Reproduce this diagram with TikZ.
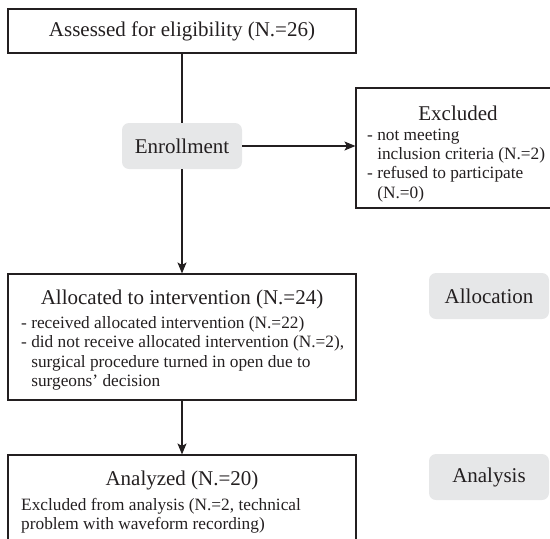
\documentclass[tikz,border=0pt]{standalone}
\usepackage{fontspec}
\setmainfont{Liberation Serif}
\usetikzlibrary{arrows.meta}
\definecolor{ink}{HTML}{231F20}
\definecolor{phase}{HTML}{E6E7E8}
\newcommand\titlefont{\fontsize{21}{24}\selectfont}
\newcommand\bodyfont{\fontsize{17.3}{19.4}\selectfont}
\begin{document}
\begin{tikzpicture}[x=1pt,y=-1pt,
  box/.style={draw=ink, line width=1.1pt, rectangle, inner sep=0pt},
  phasebox/.style={fill=phase, rounded corners=7pt, minimum width=120pt, minimum height=46pt, inner sep=0pt, font=\titlefont, text=ink},
  title/.style={font=\titlefont, text=ink, inner sep=0pt},
  body/.style={font=\bodyfont, text=ink, align=left, inner sep=0pt, anchor=north west},
  conn/.style={draw=ink, line width=1.1pt},
  arrow/.style={conn, -{Stealth[length=11pt, width=9pt, inset=2.5pt]}}
]
\useasboundingbox (0,0) rectangle (550,539);

% main boxes
\node[box, minimum width=348pt, minimum height=44pt, font=\titlefont, text=ink] (assess) at (182,31) {Assessed for eligibility (N.=26)};
\node[phasebox] (enroll) at (182,146) {Enrollment};
\node[box, minimum width=205pt, minimum height=120pt] (excl) at (458.5,148) {};
\node[box, minimum width=348pt, minimum height=126pt] (alloc) at (182,337) {};
\node[box, minimum width=348pt, minimum height=92pt] (anal) at (182,501) {};
\node[phasebox] (allocph) at (489,296) {Allocation};
\node[phasebox] (analph) at (489,477) {Analysis};

% texts
\node[title, anchor=base] (exclt) at (458,120) {Excluded};
\node[body] (exclb) at (367,128.5) {- not meeting\\\phantom{- }inclusion criteria (N.=2)\\- refused to participate\\\phantom{- }(N.=0)};
\node[title, anchor=base] (alloct) at (182,304) {Allocated to intervention (N.=24)};
\node[body] (allocb) at (21,316) {- received allocated intervention (N.=22)\\- did not receive allocated intervention (N.=2),\\\phantom{- }surgical procedure turned in open due to\\\phantom{- }surgeons' decision};
\node[title, anchor=base] (analt) at (182,485) {Analyzed (N.=20)};
\node[body] (analb) at (21,498) {Excluded from analysis (N.=2, technical\\problem with waveform recording)};

% connectors
\draw[conn] (assess) -- (enroll);
\draw[arrow] (enroll) -- (alloc);
\draw[arrow] (enroll.east) -- (enroll.east -| excl.west);
\draw[arrow] (alloc) -- (anal);
\end{tikzpicture}
\end{document}
